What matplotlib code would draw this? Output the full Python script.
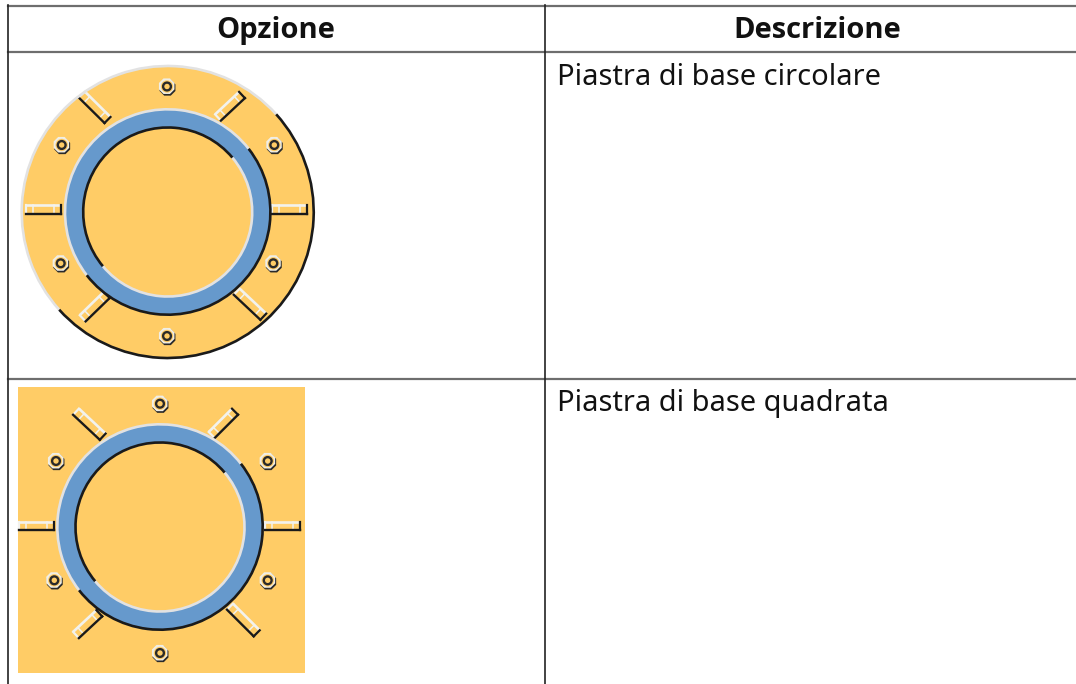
import numpy as np
import matplotlib
matplotlib.use('Agg')
import matplotlib.pyplot as plt
from matplotlib.patches import Circle, Rectangle, Arc, RegularPolygon

plt.rcParams['font.family'] = ['Noto Sans', 'DejaVu Sans']

colors = {'plate': '#ffcc66', 'ring': '#6699cc', 'lo': '#f2f2ee',
          'edge': '#e2e2e2', 'dark': '#1a1a1a'}

# table
headers = ['Opzione', 'Descrizione']
header_x = [276, 817]
descriptions = ['Piastra di base circolare', 'Piastra di base quadrata']
desc_y = [85, 411]
hlines_y = [5.5, 52, 379]
vlines_x = [7.5, 545]

# round plate, pixels
c1 = (167.7, 212)
plate_r = 146
ring_out = 102.7
ring_in = 84.5
bolts1 = [(167, 86.5), (274.3, 145), (273.3, 263.3), (167, 336),
          (60.7, 263.3), (61.7, 145)]
slots1 = [((26, 209.5), (60.5, 209.5)), ((272, 209.5), (306.5, 209.5)),
          ((81.7, 94.5), (107.5, 120)), ((242, 95), (218, 117.5)),
          ((82.7, 318.3), (106.7, 295)), ((236.7, 291.7), (263.3, 316.7))]

# square plate
c2 = (160, 527)
square = (18, 387, 287, 286)
bolts2 = [(160, 403.7), (267.7, 461), (267.7, 580.3), (160, 653),
          (54.3, 580.3), (56, 461)]
slots2 = [((19.3, 526), (54.3, 526)), ((265, 526), (300, 526)),
          ((76, 411.7), (102.7, 436.7)), ((235, 411.7), (211.7, 435)),
          ((76, 635), (99.3, 613.3)), ((230, 606.7), (256.7, 633.3))]

fig = plt.figure(figsize=(10.76, 6.84), dpi=100)
ax = fig.add_axes([0, 0, 1, 1])
ax.set_xlim(0, 1076)
ax.set_ylim(684, 0)
ax.axis('off')


def bevel(center, r, first, second, split):
    # y axis is flipped, so arc angles run clockwise on screen
    ax.add_patch(Arc(center, 2*r, 2*r, theta1=split+180, theta2=split+360,
                     color=first, lw=1.9, zorder=4))
    ax.add_patch(Arc(center, 2*r, 2*r, theta1=split, theta2=split+180,
                     color=second, lw=1.9, zorder=4))


def ring(center):
    ax.add_patch(Circle(center, ring_out, fc=colors['ring'], ec='none', zorder=3))
    ax.add_patch(Circle(center, ring_in, fc=colors['plate'], ec='none', zorder=3))
    bevel(center, ring_out, colors['edge'], colors['dark'], -38)
    bevel(center, ring_in, colors['dark'], colors['edge'], -40)


def bolt(x, y):
    ax.add_patch(RegularPolygon((x+.5, y+1.2), 8, radius=8.6, orientation=np.pi/8,
                                fc='#2a2a2a', ec='none', zorder=2))
    ax.add_patch(RegularPolygon((x-.3, y-.3), 8, radius=8.4, orientation=np.pi/8,
                                fc='#f0eee6', ec='none', zorder=2))
    ax.add_patch(Circle((x, y), 6.2, fc=colors['plate'], ec='none', zorder=2))
    ax.add_patch(Circle((x, y), 3.9, fc=colors['plate'], ec='#2a2a2a', lw=1.7, zorder=2))


def slot(p, q, w=8.5):
    p, q = np.array(p, float), np.array(q, float)
    d = (q-p)/np.hypot(*(q-p))
    n = np.array([-d[1], d[0]])
    if n.sum() < 0:
        n = -n
    a, b, c, e = p-n*w/2, q-n*w/2, q+n*w/2, p+n*w/2
    ax.fill(*zip(a, b, c, e), fc=colors['plate'], ec='none', zorder=2)
    for t in (.2, .8):
        m = p+(q-p)*t
        ax.plot(*zip(m-n*w/2, m+n*w/2), color=colors['lo'], lw=1.1, zorder=2)
    ax.plot(*zip(a, b), color=colors['lo'], lw=1.9, zorder=2, solid_capstyle='butt')
    near, far = (p, q) if d.sum() > 0 else (q, p)
    ax.plot(*zip(near-n*w/2, near+n*w/2), color=colors['lo'], lw=1.6, zorder=2)
    ax.plot(*zip(far-n*w/2, far+n*w/2), color=colors['dark'], lw=1.6, zorder=2)
    ax.plot(*zip(e, c), color=colors['dark'], lw=1.7, zorder=2, solid_capstyle='projecting')


# round plate
ax.add_patch(Circle(c1, plate_r, fc=colors['plate'], ec='none', zorder=1))
bevel(c1, plate_r, colors['edge'], colors['dark'], -42)
for b in bolts1:
    bolt(*b)
for s in slots1:
    slot(*s)
ring(c1)

# square plate
ax.add_patch(Rectangle(square[:2], square[2], square[3], fc=colors['plate'],
                       ec='none', zorder=1))
for b in bolts2:
    bolt(*b)
for s in slots2:
    slot(*s)
ring(c2)

# table lines
for y in hlines_y:
    ax.plot([vlines_x[0], 1076], [y, y], color='#6e6e6e', lw=1.6, zorder=5)
for x in vlines_x:
    ax.plot([x, x], [5, 684], color='#222222', lw=1.2, zorder=5)

for x, t in zip(header_x, headers):
    ax.text(x, 38, t, ha='center', va='baseline', fontsize=21, fontweight='bold',
            family=['Open Sans', 'DejaVu Sans'], color='#111111')
for y, t in zip(desc_y, descriptions):
    ax.text(557, y, t, ha='left', va='baseline', fontsize=20.9, color='#111111')

fig.savefig('out.png', dpi=100)
